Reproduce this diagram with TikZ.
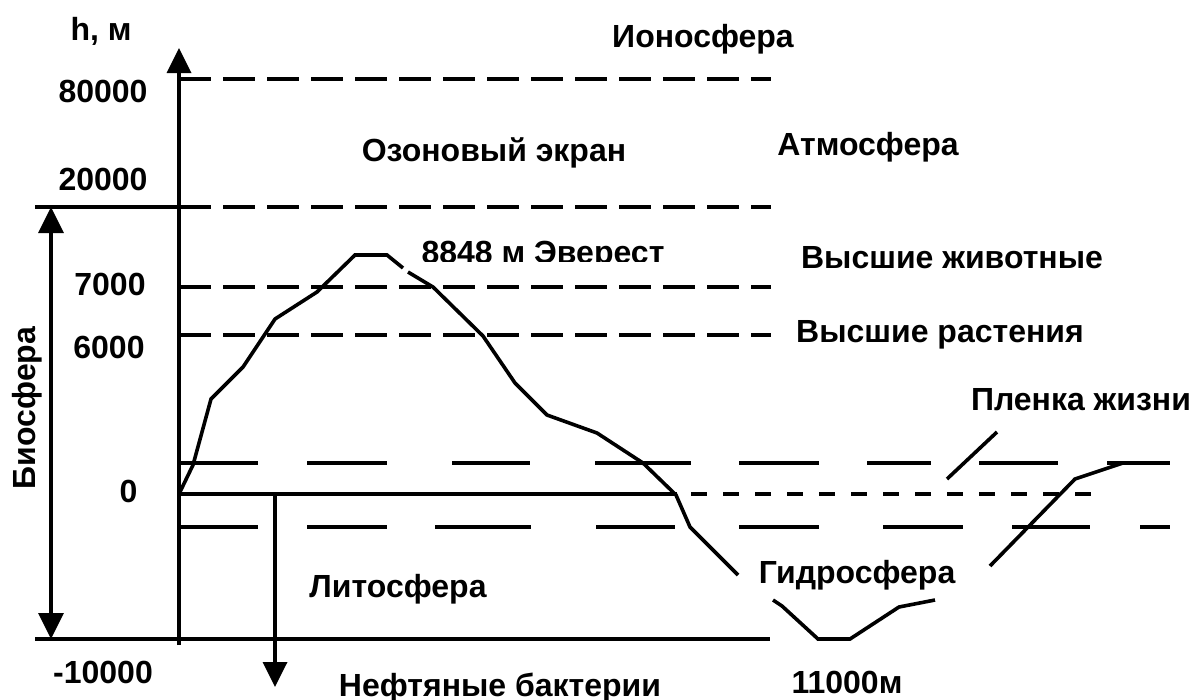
\documentclass[tikz,border=0pt]{standalone}
\usepackage{fontspec}
\setmainfont{Liberation Sans}
\usetikzlibrary{arrows.meta}
\begin{document}
\begin{tikzpicture}[x=1pt,y=-1pt,
  lbl/.style={font=\fontsize{32}{38}\selectfont\bfseries, inner sep=0pt, anchor=base},
  heavy/.style={line width=3.6pt, line cap=butt},
  level/.style={heavy, dash pattern=on 32pt off 12pt},
  tip/.style={-{Triangle[length=25pt,width=24pt]}},
  both tips/.style={{Triangle[length=26pt,width=25pt]}-{Triangle[length=26pt,width=25pt]}}
]
\useasboundingbox (0,0) rectangle (1194,699);

% ---- vertical axis h, m
\coordinate (axbot) at (179,645);
\coordinate (axtop) at (179,48);
\draw[heavy,tip] (axbot) -- (axtop);

% ---- upper levels (80000, 20000, 7000, 6000)
\draw[level] (179,79) -- (771,79);
\draw[level] (179,207) -- (771,207);
\draw[level] (179,287) -- (771,287);
\draw[level] (179,335) -- (771,335);
\draw[heavy] (35,207) -- (179,207);

% ---- bottom level -10000
\draw[heavy] (35,639) -- (770,639);

% ---- biosphere extent
\coordinate (biotop) at (51,207);
\coordinate (biobot) at (51,639);
\draw[heavy,both tips] (biotop) -- (biobot);

% ---- sea level 0 and the film of life bounds
\draw[heavy] (179,494) -- (677,494);
\foreach \k in {0,...,12}
  \draw[heavy] ({691+32*\k},494) -- ({707+32*\k},494);
\foreach \a/\b in {180/258,307/387,452/530,595/691,739/819,867/931,979/1058,1107/1170}
  \draw[heavy] (\a,463) -- (\b,463);
\foreach \a/\b in {180/258,307/387,435/531,596/675,739/819,883/963,1012/1090,1140/1170}
  \draw[heavy] (\a,527) -- (\b,527);

% ---- oil bacteria depth arrow
\coordinate (oiltop) at (275,494);
\coordinate (oilbot) at (275,687);
\draw[heavy,tip] (oiltop) -- (oilbot);

% ---- land and sea-floor profile
\draw[heavy, line join=miter] (179,494) -- (193,465) -- (211,399) -- (243,367)
  -- (275,319) -- (317,292) -- (355,255) -- (387,255) -- (403,268);
\draw[heavy] (408,272) -- (433,287) -- (483,336) -- (515,383) -- (547,415)
  -- (597,433) -- (643,463) -- (676,495) -- (690,527) -- (738,575);
\draw[heavy] (773,600) -- (782,606) -- (818,639) -- (850,639) -- (899,607) -- (935,600);
\draw[heavy] (990,566) -- (1075,479) -- (1123,463);
\coordinate (filmA) at (947,479);
\coordinate (filmB) at (997,432);
\draw[heavy] (filmA) -- (filmB);

% ---- labels
\node[lbl] (hlab) at (101,40) {h, м};
\node[lbl] (iono) at (703,47) {Ионосфера};
\node[lbl] (l80) at (103,102) {80000};
\node[lbl] (ozon) at (494,161) {Озоновый экран};
\node[lbl] (atmo) at (868,155) {Атмосфера};
\node[lbl] (l20) at (103,190) {20000};
\begin{scope}
  \clip (400,225) rectangle (690,261);
  \node[lbl] (ever) at (543,263) {8848 м Эверест};
\end{scope}
\node[lbl] (anim) at (952,268) {Высшие животные};
\node[lbl] (l7) at (110,295) {7000};
\node[lbl] (plant) at (940,342) {Высшие растения};
\node[lbl] (l6) at (109,358) {6000};
\node[lbl] (film) at (1081,410) {Пленка жизни};
\node[lbl, rotate=90] (bio) at (35,408) {Биосфера};
\node[lbl] (l0) at (128.5,502) {0};
\node[lbl] (hydro) at (857,583) {Гидросфера};
\node[lbl] (litho) at (398,597) {Литосфера};
\node[lbl] (lm10) at (103,683) {-10000};
\node[lbl] (oil) at (500,696) {Нефтяные бактерии};
\node[lbl] (deep) at (847,693) {11000м};
\end{tikzpicture}
\end{document}
